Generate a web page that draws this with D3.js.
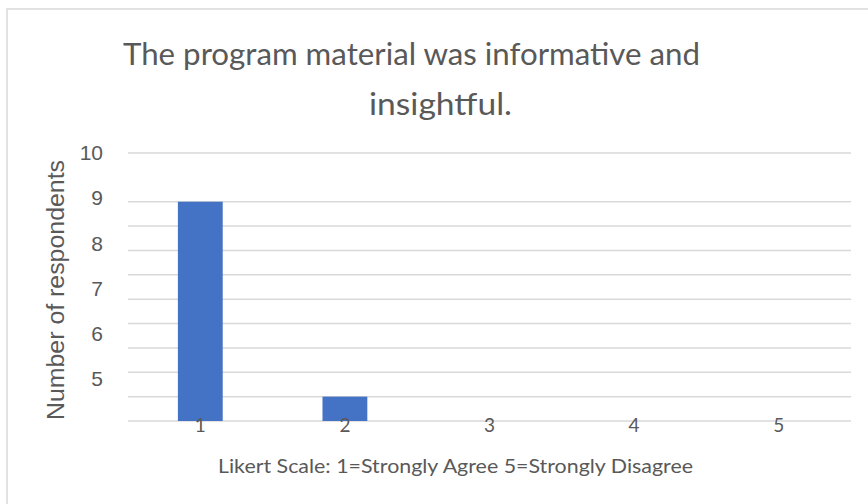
<!DOCTYPE html>
<html>
<head>
<meta charset="utf-8">
<script src="https://cdn.jsdelivr.net/npm/d3@7"></script>
<style>
  html, body { margin: 0; padding: 0; background: #ffffff; }
  svg { display: block; }
</style>
</head>
<body>
<svg id="chart" width="868" height="504"></svg>
<script>
// ---- data ----
const titleLines = ["The program material was informative and", "insightful."];
const categories = ["1", "2", "3", "4", "5"];
const counts = [9, 1, 0, 0, 0];
const gridValues = [0, 1, 2, 3, 4, 5, 6, 7, 8, 9, 11];
const yTickLabels = [10, 9, 8, 7, 6, 5];
const yAxisTitle = "Number of respondents";
const xAxisTitle = "Likert Scale: 1=Strongly Agree 5=Strongly Disagree";

// ---- layout ----
const W = 868, H = 504;
const plot = { left: 128, right: 851, top: 153, bottom: 421 };
const textColor = "#595959";
const gridColor = "#d9d9d9";
const barColor = "#4472C4";

const svg = d3.select("#chart");

// chart border
svg.append("rect")
  .attr("x", 7).attr("y", 9)
  .attr("width", W + 20).attr("height", H + 20)
  .attr("fill", "#ffffff")
  .attr("stroke", gridColor).attr("stroke-width", 1.5);

const x = d3.scaleBand()
  .domain(categories)
  .range([plot.left, plot.right])
  .paddingInner(0.69)
  .paddingOuter(0.345);

const y = d3.scaleLinear()
  .domain([0, 11])
  .range([plot.bottom, plot.top]);

const yLabel = d3.scaleLinear()
  .domain([4, 10])
  .range([plot.bottom + 3, plot.top]);

// gridlines
svg.append("g")
  .selectAll("line")
  .data(gridValues)
  .join("line")
  .attr("x1", plot.left)
  .attr("x2", plot.right)
  .attr("y1", d => y(d))
  .attr("y2", d => y(d))
  .attr("stroke", gridColor)
  .attr("stroke-width", 1.5);

// bars
svg.append("g")
  .selectAll("rect")
  .data(categories.map((c, i) => ({ c, v: counts[i] })).filter(d => d.v > 0))
  .join("rect")
  .attr("x", d => x(d.c))
  .attr("width", x.bandwidth())
  .attr("y", d => y(d.v))
  .attr("height", d => y(0) - y(d.v))
  .attr("fill", barColor);

// y tick labels
const yAxis = d3.axisLeft(yLabel)
  .tickValues(yTickLabels)
  .tickSize(0)
  .tickPadding(0)
  .tickFormat(d3.format("d"));
const gy = svg.append("g")
  .attr("transform", `translate(103,0)`)
  .call(yAxis);
gy.select(".domain").remove();
gy.selectAll("text")
  .attr("fill", textColor)
  .style("font-family", "'Liberation Sans', Arial, sans-serif")
  .style("font-size", "21px");

// x tick labels
const xAxis = d3.axisBottom(x).tickSize(0).tickPadding(0);
const gx = svg.append("g")
  .attr("transform", `translate(0,${plot.bottom - 3})`)
  .call(xAxis);
gx.select(".domain").remove();
gx.selectAll("text")
  .attr("dy", "0.71em")
  .attr("fill", textColor)
  .style("font-family", "Lato, 'Open Sans', sans-serif")
  .style("font-size", "19px");

// title
const titleSpec = [
  { x: 123, y: 65, len: 577 },
  { x: 369, y: 115, len: 143 }
];
svg.append("g")
  .selectAll("text")
  .data(titleLines)
  .join("text")
  .attr("x", (d, i) => titleSpec[i].x)
  .attr("y", (d, i) => titleSpec[i].y)
  .attr("textLength", (d, i) => titleSpec[i].len)
  .attr("lengthAdjust", "spacingAndGlyphs")
  .attr("fill", textColor)
  .style("font-family", "Lato, 'Open Sans', sans-serif")
  .style("font-size", "30px")
  .text(d => d);

// y axis title
svg.append("text")
  .attr("transform", `translate(64,${(160 + 420) / 2}) rotate(-90)`)
  .attr("text-anchor", "middle")
  .attr("textLength", 260)
  .attr("lengthAdjust", "spacingAndGlyphs")
  .attr("fill", textColor)
  .style("font-family", "'Liberation Sans', Arial, sans-serif")
  .style("font-size", "23px")
  .text(yAxisTitle);

// x axis title
svg.append("text")
  .attr("x", 218)
  .attr("y", 473)
  .attr("textLength", 475)
  .attr("lengthAdjust", "spacingAndGlyphs")
  .attr("fill", textColor)
  .style("font-family", "Lato, 'Open Sans', sans-serif")
  .style("font-size", "20px")
  .text(xAxisTitle);
</script>
</body>
</html>
